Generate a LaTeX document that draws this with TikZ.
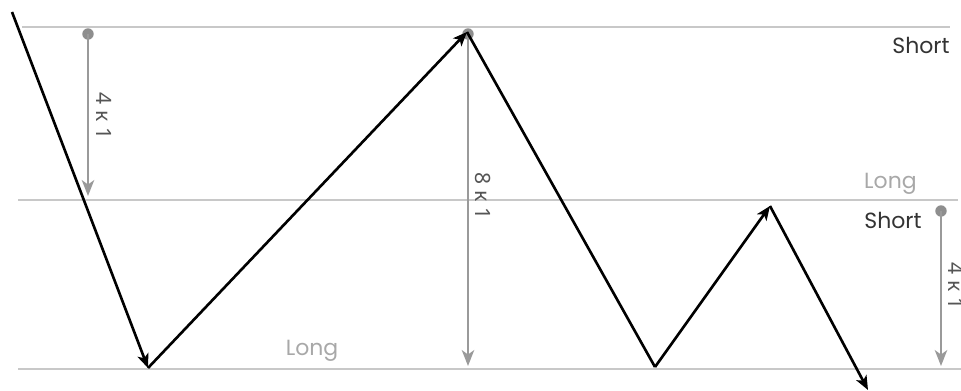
\documentclass[tikz,border=0pt]{standalone}
\usepackage{fontspec}
\setmainfont{Poppins}
\newfontfamily\ratiofont{Noto Sans}
\usetikzlibrary{arrows.meta}
\definecolor{guide}{HTML}{C8C8C8}
\definecolor{measure}{HTML}{9A9A9A}
\definecolor{dotc}{HTML}{8E8E8E}
\definecolor{shorttxt}{HTML}{333333}
\definecolor{longtxt}{HTML}{A8A8A8}
\definecolor{ratiotxt}{HTML}{555555}
\tikzset{
  guideline/.style={draw=guide, line width=1.7pt},
  pathline/.style={draw=black, line width=1.5pt, -{Stealth[length=8pt,width=6.5pt,inset=2pt]}},
  plainline/.style={draw=black, line width=1.5pt},
  measureline/.style={draw=measure, line width=1.5pt, -{Stealth[length=9pt,width=7pt,inset=2.5pt]}},
  dotmark/.style={circle, fill=dotc, inner sep=0pt, minimum size=6.5pt},
  shortlbl/.style={text=shorttxt, font=\fontsize{12.5}{14}\selectfont, inner sep=0pt},
  longlbl/.style={text=longtxt, font=\fontsize{12.5}{14}\selectfont, inner sep=0pt},
  ratiolbl/.style={text=ratiotxt, font=\ratiofont\fontsize{12}{14}\selectfont, rotate=-90, inner sep=0pt}
}
\begin{document}
\begin{tikzpicture}[x=0.02cm, y=-0.02cm]
\useasboundingbox (0,0) rectangle (961,391);
% guide lines
\coordinate (t0) at (22,27);  \coordinate (t1) at (950,27);
\coordinate (m0) at (18,200); \coordinate (m1) at (958,200);
\coordinate (b0) at (18,369); \coordinate (b1) at (961,369);
\draw[guideline] (t0) -- (t1);
\draw[guideline] (m0) -- (m1);
\draw[guideline] (b0) -- (b1);
% labels
\node[shortlbl, anchor=east] (s1) at (950,45) {Short};
\node[longlbl, anchor=east] (l1) at (917,184) {Long};
\node[shortlbl, anchor=east] (s2) at (922,220) {Short};
\node[longlbl] (l2) at (312,351) {Long};
% measurement arrows
\node[dotmark] (d1) at (88,34) {};
\coordinate (e1) at (88,196);
\draw[measureline] (d1.center) -- (e1);
\node[ratiolbl] (r1) at (104,116) {4 к 1};
\node[dotmark] (d2) at (468,34) {};
\coordinate (e2) at (468,366);
\draw[measureline] (d2.center) -- (e2);
\node[ratiolbl] (r2) at (483,196) {8 к 1};
\node[dotmark] (d3) at (941,211) {};
\coordinate (e3) at (941,366);
\draw[measureline] (d3.center) -- (e3);
\node[ratiolbl] (r3) at (956,286) {4 к 1};
% price path
\coordinate (p0) at (12,12);
\coordinate (p1) at (148,368);
\coordinate (p2) at (467,32);
\coordinate (p3) at (655,367);
\coordinate (p4) at (770,206);
\coordinate (p5) at (868,390);
\draw[pathline] (p0) -- (p1);
\draw[pathline] (p1) -- (p2);
\draw[plainline] (p2) -- (p3);
\draw[pathline] (p3) -- (p4);
\draw[pathline] (p4) -- (p5);
\end{tikzpicture}
\end{document}
